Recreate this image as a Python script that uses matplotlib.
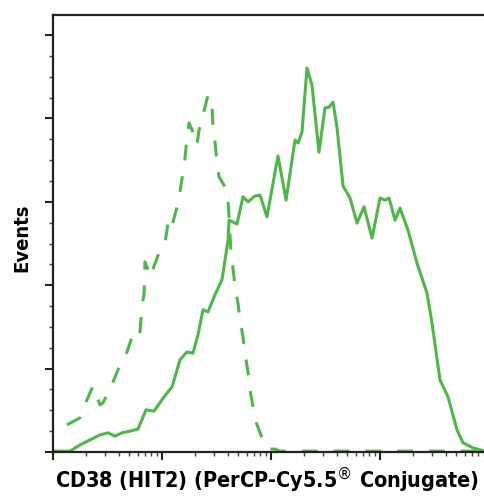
import numpy as np
import matplotlib
matplotlib.use("Agg")
import matplotlib.pyplot as plt
from matplotlib.ticker import LogLocator, MultipleLocator, NullFormatter

# CD38 (HIT2) PerCP-Cy5.5 histogram, stained vs isotype control

# log10 fluorescence intensity and event counts
stained_log = [0.000, 0.156, 0.248, 0.339, 0.431, 0.505, 0.569, 0.633, 0.706, 0.780,
               0.853, 0.927, 1.018, 1.092, 1.165, 1.229, 1.284, 1.330, 1.376, 1.422,
               1.486, 1.550, 1.578, 1.606, 1.615, 1.670, 1.688, 1.743, 1.789, 1.853,
               1.899, 1.963, 2.064, 2.138, 2.220, 2.248, 2.284, 2.330, 2.376, 2.440,
               2.495, 2.532, 2.569, 2.606, 2.661, 2.725, 2.789, 2.853, 2.927, 3.000,
               3.046, 3.083, 3.138, 3.183, 3.257, 3.339, 3.431, 3.477, 3.550, 3.624,
               3.706, 3.761, 3.853, 3.963]
stained_counts = [0.2, 0.2, 1.7, 2.9, 4.1, 4.6, 3.8, 4.6, 5.0, 5.5,
                  10.1, 9.8, 13.2, 15.6, 22.1, 24.0, 23.7, 28.1, 34.1, 33.6,
                  37.7, 41.3, 46.0, 50.8, 55.6, 54.9, 54.7, 61.2, 60.0, 61.4,
                  61.6, 56.4, 71.0, 60.4, 74.8, 74.1, 76.7, 92.1, 88.0, 71.9,
                  82.5, 82.7, 83.9, 77.7, 63.8, 60.9, 54.9, 58.8, 51.3, 60.9,
                  60.4, 60.9, 55.6, 58.5, 53.2, 45.3, 38.1, 30.9, 17.3, 13.2,
                  5.3, 2.2, 1.0, 0.2]

isotype_log = [0.128, 0.248, 0.303, 0.367, 0.431, 0.459, 0.532, 0.596, 0.679, 0.725,
               0.771, 0.798, 0.817, 0.835, 0.844, 0.872, 0.899, 0.927, 0.972, 1.028,
               1.055, 1.083, 1.101, 1.138, 1.165, 1.193, 1.211, 1.229, 1.248, 1.284,
               1.321, 1.339, 1.376, 1.422, 1.459, 1.468, 1.486, 1.505, 1.523, 1.550,
               1.578, 1.606, 1.633, 1.651, 1.670, 1.697, 1.716, 1.743, 1.761, 1.789,
               1.807, 1.835, 1.862, 1.917, 1.972, 2.037, 2.083, 3.963]
isotype_counts = [6.5, 8.2, 12.0, 15.8, 11.3, 11.8, 15.6, 19.7, 24.0, 27.6,
                  29.7, 28.8, 35.3, 37.7, 45.6, 43.7, 42.0, 44.6, 47.7, 50.1,
                  54.9, 56.8, 55.2, 58.8, 62.4, 67.2, 70.5, 75.3, 78.9, 76.7,
                  73.6, 77.2, 80.8, 85.6, 82.7, 77.9, 74.3, 69.5, 66.0, 64.8,
                  63.6, 60.4, 47.7, 44.1, 39.6, 35.7, 31.7, 27.6, 23.7, 19.2,
                  14.9, 10.8, 7.2, 3.4, 0.7, 0.7, 0.2, 0.2]

green = "#4db848"

fig = plt.figure(figsize=(4.85, 4.96), dpi=100)
ax = fig.add_axes([53 / 485, 44 / 496, 432 / 485, 437 / 496])

ax.plot(10 ** np.array(stained_log), stained_counts, color=green, lw=2.2,
        solid_joinstyle="round")
ax.plot(10 ** np.array(isotype_log), isotype_counts, color=green, lw=2.2,
        dashes=(5.2, 5.2), dash_joinstyle="round")

ax.set_xscale("log")
ax.set_xlim(1, 10 ** 3.963)
ax.set_ylim(0, 104.8)

ax.xaxis.set_major_locator(LogLocator(base=10, numticks=10))
ax.xaxis.set_minor_locator(LogLocator(base=10, subs=np.arange(2, 10), numticks=10))
ax.xaxis.set_major_formatter(NullFormatter())
ax.xaxis.set_minor_formatter(NullFormatter())
ax.yaxis.set_major_locator(MultipleLocator(20))
ax.yaxis.set_minor_locator(MultipleLocator(5))
ax.yaxis.set_major_formatter(NullFormatter())

ax.tick_params(which="major", length=6, width=1.5, color="#222222")
ax.tick_params(which="minor", length=3, width=1.0, color="#444444")

for side in ["left", "top", "bottom"]:
    ax.spines[side].set_linewidth(1.6)
    ax.spines[side].set_color("#222222")
ax.spines["right"].set_visible(False)

ax.set_xlabel("CD38 (HIT2) (PerCP-Cy5.5$^{®}$ Conjugate)", family="DejaVu Sans",
              fontstretch="condensed", fontweight="bold", fontsize=15.5)
ax.xaxis.set_label_coords(0.495, -0.03)
ax.set_ylabel("Events", family="DejaVu Sans", fontstretch="condensed",
              fontweight="bold", fontsize=14.5)
ax.yaxis.set_label_coords(-0.05, 0.49)

fig.savefig("out.png", dpi=100)
